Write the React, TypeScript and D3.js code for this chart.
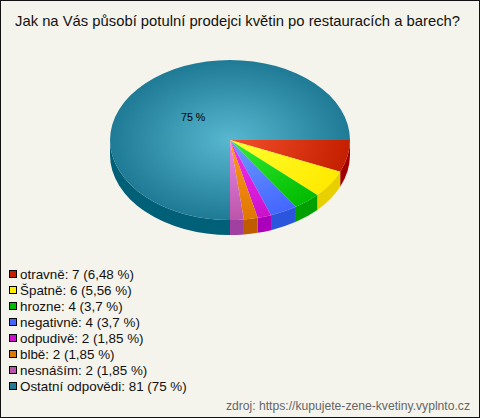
import React from "react";
import * as d3 from "d3";

const labels = ["otravně", "Špatně", "hrozne", "negativně", "odpudivě", "blbě", "nesnáším", "Ostatní odpovědi"];
const counts = [7, 6, 4, 4, 2, 2, 2, 81];
const percents = ["6,48", "5,56", "3,7", "3,7", "1,85", "1,85", "1,85", "75"];
const innerColors = ["#f4502c", "#ffff30", "#33ee33", "#6c9cff", "#f033f0", "#ff9a22", "#ea8ae6", "#58b8d0"];
const outerColors = ["#c42000", "#ffea00", "#00bb00", "#4466ff", "#cc11cc", "#e07700", "#bb55aa", "#1f7a95"];
const sideColors = ["#a00000", "#e8d000", "#00a000", "#2b55dd", "#aa00bb", "#c05c00", "#a040a0", "#006078"];
const legendColors = ["#c42000", "#ffee00", "#00bb00", "#4466ff", "#cc11cc", "#e07700", "#bb55aa", "#1f7a95"];

const W = 480, H = 418;
const cx = 230, cy = 140, rx = 120, ry = 80, depth = 15;
const FONT = "'Liberation Sans', Arial, sans-serif";

const pie = d3.pie<number>().sort(null).startAngle(Math.PI / 2).endAngle(Math.PI * 2.5);
const arcs = pie(counts);
const arcGen = d3.arc<d3.PieArcDatum<number>>().innerRadius(0).outerRadius(rx);

// d3 angle (from 12 o'clock, clockwise) to a point on the ellipse
const pt = (a: number, dy = 0): [number, number] => [
  rx * Math.sin(a),
  -ry * Math.cos(a) + dy,
];

function sidePath(a0: number, a1: number) {
  // only the front half (screen angles 0..180deg) has a visible wall
  const s = Math.max(a0, Math.PI / 2);
  const e = Math.min(a1, Math.PI * 1.5);
  if (e <= s) return null;
  const [x0, y0] = pt(s);
  const [x1, y1] = pt(e);
  return `M${x0},${y0}A${rx},${ry} 0 0 1 ${x1},${y1}L${x1},${y1 + depth}A${rx},${ry} 0 0 0 ${x0},${y0 + depth}Z`;
}

export default function App() {
  return (
    <svg width={W} height={H} style={{ position: "fixed", left: 0, top: 0, display: "block" }}>
      <defs>
        {arcs.map((_, i) => (
          <radialGradient key={i} id={`g${i}`} gradientUnits="userSpaceOnUse" cx={0} cy={0} r={rx}>
            <stop offset="0" stopColor={innerColors[i]} />
            <stop offset="1" stopColor={outerColors[i]} />
          </radialGradient>
        ))}
      </defs>
      <rect x={0.5} y={0.5} width={W - 1} height={H - 1} fill="#f5f4ec" stroke="#111" strokeWidth={1} />
      <text x={15} y={26} textLength={445} lengthAdjust="spacingAndGlyphs" fontFamily={FONT} fontSize={15} fill="#111">
        Jak na Vás působí potulní prodejci květin po restauracích a barech?
      </text>
      <g transform={`translate(${cx},${cy})`}>
        {arcs.map((d, i) => {
          const p = sidePath(d.startAngle, d.endAngle);
          return p ? <path key={i} d={p} fill={sideColors[i]} /> : null;
        })}
        <g transform={`scale(1,${ry / rx})`}>
          {arcs.map((d, i) => (
            <path key={i} d={arcGen(d) as string} fill={`url(#g${i})`} />
          ))}
        </g>
      </g>
      <text x={181} y={121} fontFamily={FONT} fontSize={10.67} fill="#000">75 %</text>
      {labels.map((l, i) => (
        <g key={l}>
          <rect x={9.5} y={270.5 + i * 16} width={7} height={7} fill={legendColors[i]} stroke="#000" strokeWidth={1} />
          <text x={20} y={279 + i * 16} fontFamily={FONT} fontSize={13.4} fill="#111">
            {`${l}: ${counts[i]} (${percents[i]} %)`}
          </text>
        </g>
      ))}
      <text x={470} y={410} textAnchor="end" fontFamily={FONT} fontSize={12.15} fill="#666">
        zdroj: https://kupujete-zene-kvetiny.vyplnto.cz
      </text>
    </svg>
  );
}
